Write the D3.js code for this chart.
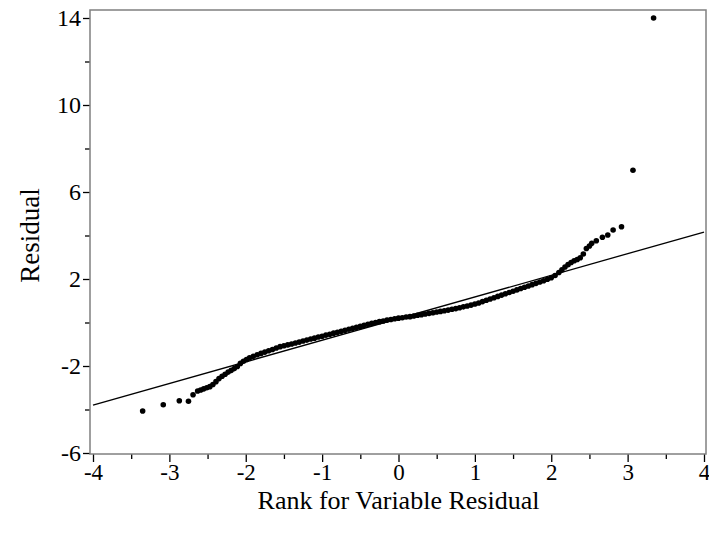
<!DOCTYPE html>
<html>
<head>
<meta charset="utf-8">
<script src="https://cdn.jsdelivr.net/npm/d3@7"></script>
<style>
  body { margin: 0; background: #fff; }
  text { font-family: "Liberation Serif", "DejaVu Serif", serif; }
</style>
</head>
<body>
<svg width="709" height="539"></svg>
<script>
// normal quantile (rank) of each residual
var rankScores = [
  -3.35, -3.08, -2.87, -2.75, -2.69, -2.63, -2.59, -2.55, -2.51, -2.47,
  -2.43, -2.39, -2.35, -2.31, -2.27, -2.23, -2.19, -2.15, -2.11, -2.07,
  -2.03, -1.99, -1.95, -1.90, -1.85, -1.80, -1.75, -1.70, -1.65, -1.60,
  -1.55, -1.50,
  -1.45, -1.40, -1.35, -1.30, -1.25, -1.20, -1.15, -1.10, -1.05, -1.00,
  -0.95, -0.90, -0.85, -0.80, -0.75, -0.70, -0.65, -0.60, -0.55, -0.50,
  -0.45, -0.40, -0.35, -0.30, -0.25, -0.20, -0.15, -0.10, -0.05, 0.00,
  0.05, 0.10, 0.15, 0.20, 0.25, 0.30, 0.35, 0.40, 0.45, 0.50,
  0.55, 0.60, 0.65, 0.70, 0.75, 0.80, 0.85, 0.90, 0.95, 1.00,
  1.05, 1.10, 1.15, 1.20, 1.25, 1.30, 1.35, 1.40, 1.45, 1.50,
  1.55, 1.60, 1.65, 1.70, 1.75, 1.80, 1.85, 1.90, 1.95, 2.00,
  2.05, 2.10, 2.14, 2.18, 2.22, 2.26, 2.30, 2.34, 2.38, 2.42,
  2.46, 2.50, 2.53, 2.59, 2.67, 2.74, 2.81, 2.92, 3.07, 3.34
];
var residuals = [
  -4.07, -3.78, -3.60, -3.62, -3.32, -3.15, -3.10, -3.05, -3.00, -2.95,
  -2.85, -2.72, -2.58, -2.47, -2.38, -2.28, -2.20, -2.12, -2.02, -1.88,
  -1.78, -1.70, -1.62, -1.55, -1.48, -1.42, -1.36, -1.30, -1.24, -1.17,
  -1.11, -1.07,
  -1.03, -0.99, -0.94, -0.90, -0.85, -0.81, -0.76, -0.72, -0.67, -0.63,
  -0.58, -0.54, -0.49, -0.45, -0.40, -0.36, -0.31, -0.27, -0.22, -0.18,
  -0.13, -0.08, -0.04, 0.00, 0.04, 0.07, 0.11, 0.14, 0.17, 0.20,
  0.22, 0.25, 0.27, 0.30, 0.33, 0.36, 0.39, 0.42, 0.45, 0.48,
  0.51, 0.54, 0.57, 0.61, 0.64, 0.68, 0.72, 0.76, 0.80, 0.85,
  0.90, 0.96, 1.02, 1.08, 1.14, 1.20, 1.26, 1.32, 1.38, 1.44,
  1.50, 1.56, 1.62, 1.68, 1.74, 1.80, 1.86, 1.92, 1.99, 2.06,
  2.16, 2.30, 2.42, 2.55, 2.66, 2.76, 2.84, 2.90, 2.98, 3.15,
  3.40, 3.52, 3.64, 3.76, 3.92, 4.02, 4.25, 4.40, 7.00, 14.00
];

// reference line (intercept, slope)
var refIntercept = 0.18;
var refSlope = 0.995;

var xTicks = [-4, -3, -2, -1, 0, 1, 2, 3, 4];
var xMinorTicks = [-3.5, -2.5, -1.5, -0.5, 0.5, 1.5, 2.5, 3.5];
var yTicks = [-6, -2, 2, 6, 10, 14];
var yMinorTicks = [-4, 0, 4, 8, 12];

var svg = d3.select("svg");

var frame = { left: 90, right: 706, top: 10, bottom: 454 };

var x = d3.scaleLinear().domain([-4, 4]).range([93, 704]);
var y = d3.scaleLinear().domain([-6, 14]).range([453, 18]);

var fmt = function(d) { return String(d); };

//minor ticks first, no labels
svg.append("g")
  .attr("transform", "translate(0," + frame.bottom + ")")
  .call(d3.axisBottom(x).tickValues(xMinorTicks).tickSize(5).tickFormat(""));
svg.append("g")
  .attr("transform", "translate(" + frame.left + ",0)")
  .call(d3.axisLeft(y).tickValues(yMinorTicks).tickSize(5).tickFormat(""));

var xAxis = svg.append("g")
  .attr("transform", "translate(0," + frame.bottom + ")")
  .call(d3.axisBottom(x).tickValues(xTicks).tickSize(8).tickPadding(2).tickFormat(fmt));
var yAxis = svg.append("g")
  .attr("transform", "translate(" + frame.left + ",0)")
  .call(d3.axisLeft(y).tickValues(yTicks).tickSize(7).tickPadding(2).tickFormat(fmt));

svg.selectAll(".domain").remove();
svg.selectAll("g").attr("font-family", "'Liberation Serif', serif");
xAxis.attr("font-size", 23);
yAxis.attr("font-size", 24);
svg.selectAll(".tick line").attr("stroke", "#000").attr("stroke-width", 1.3);
svg.selectAll(".tick text").attr("fill", "#000");

//frame
svg.append("rect")
  .attr("x", frame.left)
  .attr("y", frame.top)
  .attr("width", frame.right - frame.left)
  .attr("height", frame.bottom - frame.top)
  .attr("fill", "none")
  .attr("stroke", "#808080")
  .attr("stroke-width", 1.5);

//reference line
svg.append("line")
  .attr("x1", x(-4))
  .attr("y1", y(refIntercept + refSlope * -4))
  .attr("x2", x(4))
  .attr("y2", y(refIntercept + refSlope * 4))
  .attr("stroke", "#000")
  .attr("stroke-width", 1.3);

//points
var points = rankScores.map(function(r, i) { return { r: r, v: residuals[i] }; });
svg.append("g")
  .selectAll("circle")
  .data(points)
  .enter()
  .append("circle")
  .attr("cx", function(d) { return x(d.r); })
  .attr("cy", function(d) { return y(d.v); })
  .attr("r", 2.8)
  .attr("fill", "#000");

//axis titles
svg.append("text")
  .attr("x", x(0))
  .attr("y", 509)
  .attr("text-anchor", "middle")
  .attr("font-size", 26)
  .text("Rank for Variable Residual");

svg.append("text")
  .attr("transform", "translate(39," + y(4) + ") rotate(-90)")
  .attr("text-anchor", "middle")
  .attr("font-size", 27)
  .text("Residual");
</script>
</body>
</html>
